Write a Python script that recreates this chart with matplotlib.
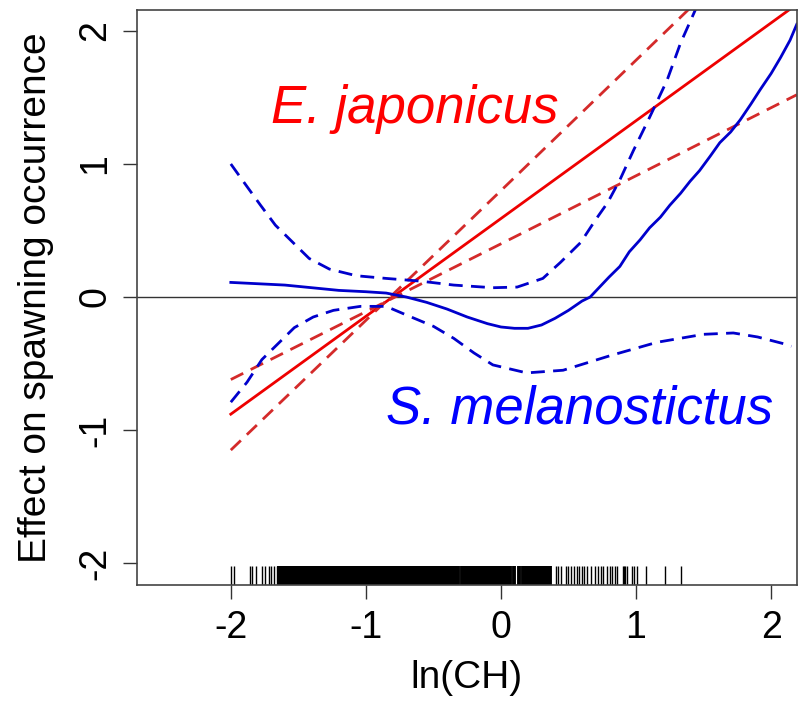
import matplotlib.pyplot as plt

plt.rcParams['font.family'] = ['Liberation Sans', 'DejaVu Sans']

# E. japonicus (red): fit and confidence bounds
ej_x = [-2.0, 0.0, 2.19]
ej_fit = [-0.88, 0.59, 2.20]
ej_bound_a_x = [-2.0, 0.0, 2.19]
ej_bound_a = [-0.62, 0.40, 1.52]
ej_bound_b_x = [-2.0, 0.0, 1.5]
ej_bound_b = [-1.15, 0.80, 2.27]

# S. melanostictus (blue): fit and confidence bounds
sm_x = [-2.0, -1.8, -1.6, -1.4, -1.2, -1.0, -0.85, -0.7, -0.55, -0.4, -0.25,
        -0.1, 0.0, 0.1, 0.2, 0.3, 0.4, 0.5, 0.6, 0.66, 0.73, 0.8, 0.88, 0.95,
        1.03, 1.1, 1.18, 1.25, 1.33, 1.4, 1.47, 1.55, 1.62, 1.7, 1.77, 1.85,
        1.92, 2.0, 2.07, 2.14, 2.19]
sm_fit = [0.11, 0.10, 0.09, 0.07, 0.05, 0.04, 0.03, 0.0, -0.04, -0.09, -0.15,
          -0.20, -0.225, -0.235, -0.235, -0.21, -0.16, -0.10, -0.03, 0.0, 0.075,
          0.15, 0.23, 0.34, 0.43, 0.52, 0.60, 0.69, 0.78, 0.87, 0.95, 1.06,
          1.16, 1.24, 1.33, 1.45, 1.56, 1.68, 1.80, 1.93, 2.05]
sm_upper_x = [-2.0, -1.88, -1.78, -1.67, -1.55, -1.42, -1.27, -1.07, -0.85,
              -0.6, -0.35, -0.06, 0.12, 0.31, 0.44, 0.59, 0.70, 0.79, 0.88,
              0.98, 1.10, 1.23, 1.33, 1.44, 1.5]
sm_upper = [1.0, 0.83, 0.69, 0.54, 0.42, 0.29, 0.21, 0.16, 0.14, 0.12, 0.09,
            0.07, 0.075, 0.14, 0.26, 0.41, 0.58, 0.71, 0.88, 1.10, 1.35, 1.63,
            1.91, 2.16, 2.35]
sm_lower_x = [-2.0, -1.88, -1.77, -1.65, -1.53, -1.39, -1.24, -1.04, -0.85,
              -0.70, -0.50, -0.35, -0.2, -0.06, 0.19, 0.46, 0.81, 1.155, 1.5,
              1.72, 1.9, 2.09, 2.15]
sm_lower = [-0.79, -0.64, -0.47, -0.35, -0.23, -0.15, -0.10, -0.07, -0.07,
            -0.135, -0.22, -0.31, -0.42, -0.51, -0.57, -0.55, -0.44, -0.34,
            -0.28, -0.27, -0.30, -0.35, -0.37]

# rug of observed ln(CH)
rug_dense = [-1.64, -1.62, -1.60, -1.58, -1.56, -1.54, -1.52, -1.50, -1.48,
             -1.46, -1.44, -1.42, -1.40, -1.38, -1.36, -1.34, -1.32, -1.30,
             -1.28, -1.26, -1.24, -1.22, -1.20, -1.18, -1.16, -1.14, -1.12,
             -1.10, -1.08, -1.06, -1.04, -1.02, -1.00, -0.98, -0.96, -0.94,
             -0.92, -0.90, -0.88, -0.86, -0.84, -0.82, -0.80, -0.78, -0.76,
             -0.74, -0.72, -0.70, -0.68, -0.66, -0.64, -0.62, -0.60, -0.58,
             -0.56, -0.54, -0.52, -0.50, -0.48, -0.46, -0.44, -0.42, -0.40,
             -0.38, -0.36, -0.34, -0.32, -0.29, -0.27, -0.25, -0.23, -0.21,
             -0.19, -0.17, -0.15, -0.13, -0.11, -0.09, -0.07, -0.05, -0.03,
             -0.01, 0.01, 0.03, 0.05, 0.07, 0.10, 0.13, 0.16, 0.18, 0.20, 0.22,
             0.24, 0.26, 0.28, 0.30, 0.32, 0.34, 0.36]
rug_sparse = [-2.0, -1.98, -1.86, -1.84, -1.81, -1.77, -1.75, -1.72, -1.70,
              -1.68, -1.66, 0.407, 0.425, 0.444, 0.48, 0.499, 0.516, 0.54,
              0.56, 0.578, 0.598, 0.615, 0.64, 0.667, 0.696, 0.716, 0.738,
              0.758, 0.788, 0.807, 0.824, 0.844, 0.862, 0.90, 0.91, 0.92, 0.93,
              0.968, 0.985, 1.005, 1.074, 1.215, 1.331]

x_ticks = [-2, -1, 0, 1, 2]
y_ticks = [-2, -1, 0, 1, 2]

red = '#ee0000'
red_dash = '#d42a2a'
blue = '#0000cc'

fig = plt.figure(figsize=(8, 7.05), dpi=100)
ax = fig.add_axes([0.171, 0.170, 0.825, 0.816])

ax.axhline(0, color='#333333', lw=1.0)

ax.plot(ej_x, ej_fit, color=red, lw=2.0)
ax.plot(ej_bound_a_x, ej_bound_a, color=red_dash, lw=2.0, dashes=(5, 3))
ax.plot(ej_bound_b_x, ej_bound_b, color=red_dash, lw=2.0, dashes=(5, 3))

ax.plot(sm_x, sm_fit, color=blue, lw=2.0)
ax.plot(sm_upper_x, sm_upper, color=blue, lw=2.0, dashes=(5, 3))
ax.plot(sm_lower_x, sm_lower, color=blue, lw=2.0, dashes=(5, 3))

trans = ax.get_xaxis_transform()
ax.vlines(rug_dense, 0, 0.033, transform=trans, color='black', lw=2.8)
ax.vlines(rug_sparse, 0, 0.033, transform=trans, color='black', lw=1.0)

ax.text(-0.637, 1.308, 'E. japonicus', color='#ff0000', style='italic',
        fontsize=38, ha='center', va='baseline')
ax.text(0.585, -0.947, 'S. melanostictus', color='#0000ff', style='italic',
        fontsize=38, ha='center', va='baseline')

ax.set_xlim(-2.696, 2.19)
ax.set_ylim(-2.165, 2.158)
ax.set_xticks(x_ticks)
ax.set_yticks(y_ticks)
ax.set_xticklabels([str(t) for t in x_ticks])
ax.set_yticklabels([str(t) for t in y_ticks], rotation=90, va='center')
ax.tick_params(length=10, width=1.0, labelsize=27, pad=8, color='#333333')
ax.tick_params(axis='y', pad=7)
for s in ax.spines.values():
    s.set_color('#444444')
    s.set_linewidth(1.2)

ax.set_xlabel('ln(CH)', fontsize=28)
ax.set_ylabel('Effect on spawning occurrence', fontsize=28)
ax.xaxis.set_label_coords(0.5, -0.13)
ax.yaxis.set_label_coords(-0.125, 0.5)

plt.savefig('out.png', dpi=100)
plt.close()
